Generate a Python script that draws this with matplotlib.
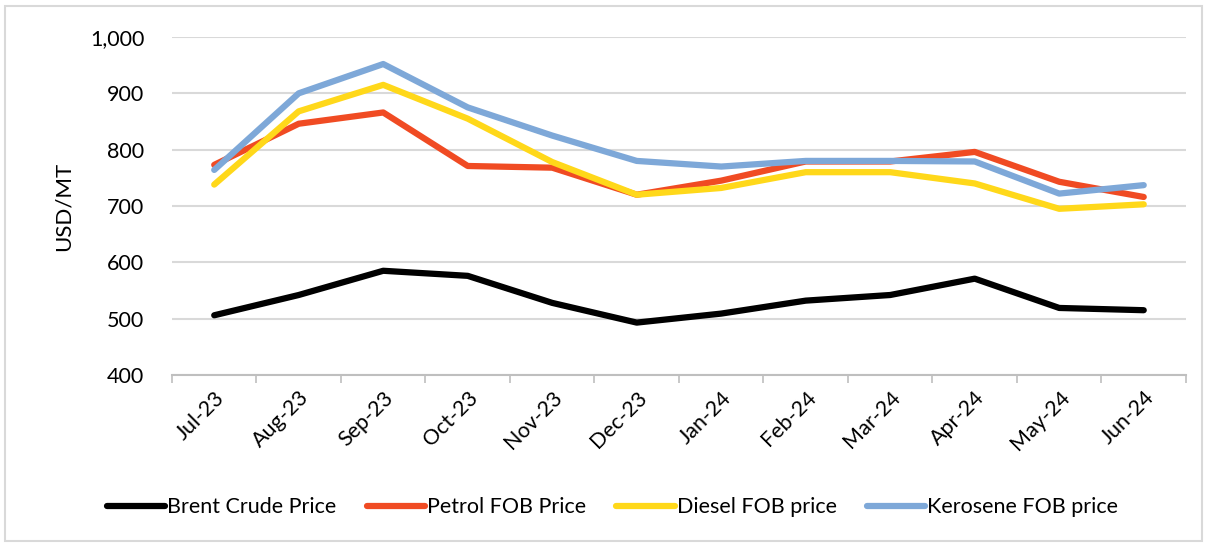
import matplotlib
matplotlib.use("Agg")
import matplotlib.pyplot as plt
from matplotlib.patches import Rectangle
from matplotlib.ticker import FuncFormatter, FixedLocator

plt.rcParams['font.family'] = ['Lato', 'DejaVu Sans']

months = ["Jul-23", "Aug-23", "Sep-23", "Oct-23", "Nov-23", "Dec-23",
          "Jan-24", "Feb-24", "Mar-24", "Apr-24", "May-24", "Jun-24"]

brent = [506, 542, 585, 576, 528, 493, 509, 532, 542, 571, 519, 515]
petrol = [773, 846, 866, 771, 768, 720, 745, 779, 779, 796, 743, 716]
diesel = [738, 868, 915, 855, 778, 720, 732, 760, 760, 740, 695, 703]
kerosene = [764, 900, 952, 875, 825, 780, 770, 780, 780, 779, 722, 737]

series = [
    ("Brent Crude Price", brent, "#000000"),
    ("Petrol FOB Price", petrol, "#f04b23"),
    ("Diesel FOB price", diesel, "#ffd81a"),
    ("Kerosene FOB price", kerosene, "#7ea8d8"),
]

fig = plt.figure(figsize=(12.06, 5.43), dpi=100)
ax = fig.add_axes([0.1426, 0.3094, 0.8408, 0.6225])

# light frame round the whole chart
fig.patches.append(Rectangle((0.004, 0.004), 0.993, 0.985, transform=fig.transFigure,
                             fill=False, edgecolor="#d9d9d9", linewidth=1.5))

x = list(range(len(months)))
for name, vals, col in series:
    ax.plot(x, vals, color=col, linewidth=4.5, label=name, solid_capstyle="round")

ax.set_ylim(400, 1000)
ax.set_xlim(-0.5, len(months) - 0.5)
ax.set_yticks(range(400, 1001, 100))
ax.yaxis.set_major_formatter(FuncFormatter(lambda v, p: f"{int(v):,}"))
ax.grid(axis="y", color="#d9d9d9", linewidth=1.5)
ax.set_axisbelow(True)

ax.set_xticks(x)
ax.set_xticklabels(months, rotation=45, ha="right", rotation_mode="anchor", fontsize=15.5)
ax.xaxis.set_minor_locator(FixedLocator([i - 0.5 for i in range(len(months) + 1)]))
ax.tick_params(axis="x", which="major", length=0, pad=9)
ax.tick_params(axis="x", which="minor", length=6, color="#bfbfbf", width=1.2)
ax.tick_params(axis="y", length=0, labelsize=15.5, pad=20)

for s in ["top", "right", "left"]:
    ax.spines[s].set_visible(False)
ax.spines["bottom"].set_color("#bfbfbf")
ax.spines["bottom"].set_linewidth(1.5)

ax.set_ylabel("USD/MT", fontsize=16, labelpad=12)

fig.legend(loc="center", bbox_to_anchor=(0.508, 0.066), ncol=4, frameon=False,
           fontsize=15.5, handlelength=2.7, columnspacing=1.4, handletextpad=0.1)

fig.savefig("out.png", dpi=100)
